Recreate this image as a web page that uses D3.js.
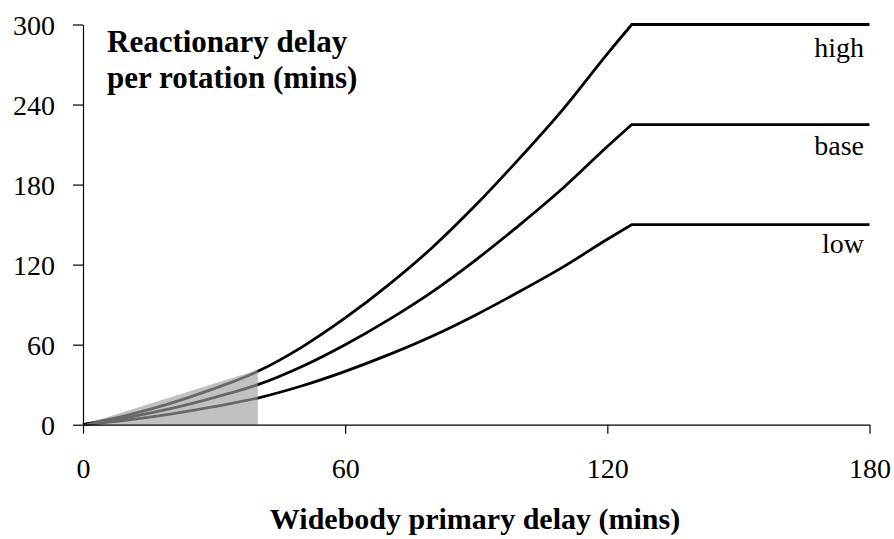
<!DOCTYPE html>
<html>
<head>
<meta charset="utf-8">
<script src="https://cdn.jsdelivr.net/npm/d3@7"></script>
<style>
    body { margin: 0; background: #fff; }
    svg text { font-family: "Liberation Serif", "Times New Roman", serif; fill: #000; }
</style>
</head>
<body>
<div id="chart"></div>
<script>
// Valores
const xVals = [0, 10, 20, 30, 40, 50, 60, 70, 80, 90, 100, 110, 120, 125.6, 180];
const lowVals = [0, 3.5, 8, 13.5, 20, 29, 40, 52.5, 66.5, 82.5, 100, 118.5, 139, 150, 150];
const baseVals = [0, 5.3, 12, 20.3, 30, 43.5, 60, 78.8, 99.8, 123.8, 150, 177.8, 208.5, 225, 225];
const highVals = [0, 7, 16, 27, 40, 58, 80, 105, 133, 165, 200, 237, 278, 300, 300];
const seriesNames = ['high', 'base', 'low'];
const shadeX = [0, 40, 40];
const shadeY = [0, 41, 0];
const xTicks = [0, 60, 120, 180];
const yTicks = [0, 60, 120, 180, 240, 300];

const width = 894, height = 539;
const svg = d3.select('#chart')
    .append('svg')
    .attr('width', width)
    .attr('height', height);

// Escalas
const x = d3.scaleLinear().domain([0, 180]).range([83, 869.5]);
const y = d3.scaleLinear().domain([0, 300]).range([424.7, 24.5]);

const series = [highVals, baseVals, lowVals];
const cornerIdx = xVals.length - 2; // ponto onde a curva fica plana

const curve = d3.line()
    .x(d => x(d[0]))
    .y(d => y(d[1]))
    .curve(d3.curveMonotoneX);
const straight = d3.line()
    .x(d => x(d[0]))
    .y(d => y(d[1]));

series.forEach(vals => {
    const pts = xVals.map((v, i) => [v, vals[i]]);
    svg.append('path')
        .attr('fill', 'none')
        .attr('stroke', '#000')
        .attr('stroke-width', 2.8)
        .attr('stroke-linejoin', 'miter')
        .attr('d', curve(pts.slice(0, cornerIdx + 1)) + straight(pts.slice(cornerIdx)).replace('M', 'L'));
});

// Área cinza por cima das linhas
svg.append('path')
    .datum(shadeX.map((v, i) => [v, shadeY[i]]))
    .attr('d', straight)
    .attr('fill', '#a0a0a0')
    .attr('fill-opacity', 0.65);

// Eixos
const xAxis = svg.append('g')
    .attr('transform', `translate(0,${y(0)})`)
    .call(d3.axisBottom(x).tickValues(xTicks).tickSizeInner(9).tickSizeOuter(0).tickPadding(24));
xAxis.selectAll('text').style('font-size', '28px');

const yAxis = svg.append('g')
    .attr('transform', `translate(${x(0)},0)`)
    .call(d3.axisLeft(y).tickValues(yTicks).tickSizeInner(10).tickSizeOuter(0).tickPadding(18));
yAxis.selectAll('text').style('font-size', '28px').attr('dy', '0.36em');

svg.selectAll('.domain, .tick line').attr('stroke', '#000').attr('stroke-width', 1.2);

// Rótulos das séries
const labelY = [57, 155, 253];
seriesNames.forEach((name, i) => {
    svg.append('text')
        .attr('x', 864)
        .attr('y', labelY[i])
        .attr('text-anchor', 'end')
        .style('font-size', '28px')
        .text(name);
});

// Títulos
const title = svg.append('text')
    .style('font-size', '31px')
    .style('font-weight', 'bold');
title.append('tspan').attr('x', 107).attr('y', 52).text('Reactionary delay');
title.append('tspan').attr('x', 107).attr('y', 88).text('per rotation (mins)');

svg.append('text')
    .attr('x', 475)
    .attr('y', 529)
    .attr('text-anchor', 'middle')
    .style('font-size', '30px')
    .style('font-weight', 'bold')
    .text('Widebody primary delay (mins)');
</script>
</body>
</html>
